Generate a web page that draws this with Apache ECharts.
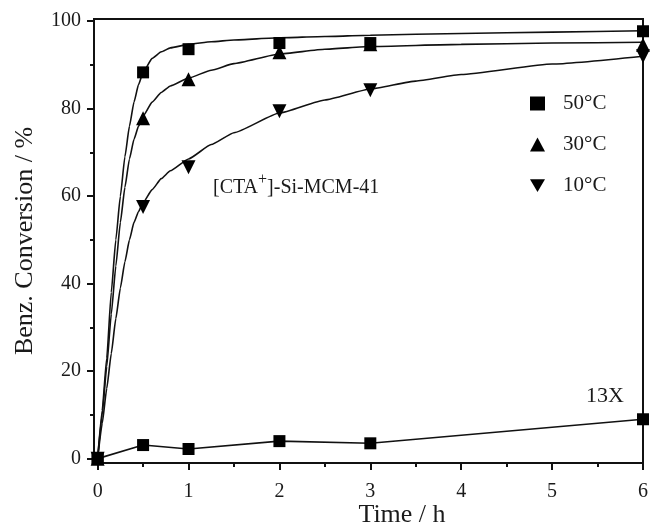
<!DOCTYPE html>
<html>
<head>
<meta charset="utf-8">
<script src="https://cdn.jsdelivr.net/npm/echarts@6/dist/echarts.min.js"></script>
<style>
  html, body { margin: 0; padding: 0; background: #fff; }
  #chart { width: 651px; height: 527px; }
</style>
</head>
<body>
<div id="chart"></div>
<script>
// Measured conversions (markers)
const timesH = [0, 0.5, 1, 2, 3, 6];
const conv50 = [0, 88.3, 93.6, 95.0, 95.0, 97.7];
const conv30 = [0, 77.8, 86.7, 92.9, 94.7, 94.6];
const conv10 = [0, 57.5, 66.6, 79.4, 84.2, 92.0];
const conv13X = [0, 3.1, 2.2, 4.0, 3.5, 9.0];

// Fitted kinetic curves
const fitT50 = [0, 0.05, 0.1, 0.15, 0.2, 0.25, 0.3, 0.35, 0.4, 0.45, 0.5, 0.6, 0.7, 0.8, 1, 1.25, 1.5, 2, 2.5, 3, 4, 5, 6];
const fit50  = [0, 11, 23, 38, 50, 60, 69, 76, 81.5, 85.5, 88.3, 91.5, 93, 93.9, 94.7, 95.3, 95.7, 96.2, 96.5, 96.8, 97.2, 97.5, 97.8];
const fitT30 = [0, 0.05, 0.1, 0.15, 0.2, 0.25, 0.3, 0.35, 0.4, 0.45, 0.5, 0.6, 0.7, 0.8, 1, 1.25, 1.5, 2, 2.5, 3, 4, 5, 6];
const fit30  = [0, 10, 21, 33, 44, 54, 62, 68.5, 73, 76, 78.3, 81.5, 83.7, 85.2, 87, 88.8, 90.3, 92.5, 93.6, 94.2, 94.7, 95.0, 95.2];
const fitT10 = [0, 0.05, 0.1, 0.15, 0.2, 0.25, 0.3, 0.35, 0.4, 0.45, 0.5, 0.6, 0.7, 0.8, 1, 1.25, 1.5, 2, 2.5, 3, 3.5, 4, 5, 6];
const fit10  = [0, 8, 16, 24, 32, 39, 45, 50, 54, 56.5, 58.5, 61.5, 64, 65.8, 68.5, 71.8, 74.5, 79, 82, 84.5, 86.3, 87.8, 90.2, 92];

const yTicks = [0, 20, 40, 60, 80, 100];
const yMinor = [10, 30, 50, 70, 90];
const xTicks = [0, 1, 2, 3, 4, 5, 6];
const xMinor = [0.5, 1.5, 2.5, 3.5, 4.5, 5.5];

const serif = '"Liberation Serif", "DejaVu Serif", serif';
const ink = '#1a1a1a';
const pairs = (xs, ys) => xs.map((x, i) => [x, ys[i]]);

const chart = echarts.init(document.getElementById('chart'));

const tickStyle = { color: '#111', width: 2 };
const downTriangle = 'path://M0,0 L20,0 L10,17 Z';

function valueAxis(min, max, position) {
  return { type: 'value', min: min, max: max, position: position, splitLine: { show: false } };
}

const xMain = Object.assign(valueAxis(-0.04, 6, 'bottom'), {
  axisLine: { show: true, onZero: false, lineStyle: { color: '#111', width: 2 } },
  axisTick: { show: true, inside: false, length: 7, customValues: xTicks, lineStyle: tickStyle },
  axisLabel: { customValues: xTicks, margin: 19, fontFamily: serif, fontSize: 20, color: ink },
});
const xMinorAxis = Object.assign(valueAxis(-0.04, 6, 'bottom'), {
  axisLine: { show: false, onZero: false },
  axisTick: { show: true, inside: false, length: 4, customValues: xMinor, lineStyle: tickStyle },
  axisLabel: { show: false },
});
const yMain = Object.assign(valueAxis(-1, 100.5, 'left'), {
  axisLine: { show: true, onZero: false, lineStyle: { color: '#111', width: 2 } },
  axisTick: { show: true, inside: false, length: 7, customValues: yTicks, lineStyle: tickStyle },
  axisLabel: { customValues: yTicks, margin: 13, fontFamily: serif, fontSize: 20, color: ink },
});
const yMinorAxis = Object.assign(valueAxis(-1, 100.5, 'left'), {
  axisLine: { show: false, onZero: false },
  axisTick: { show: true, inside: false, length: 4, customValues: yMinor, lineStyle: tickStyle },
  axisLabel: { show: false },
});

function curve(name, xs, ys) {
  return {
    type: 'line', name: name, data: pairs(xs, ys),
    smooth: 0.15, smoothMonotone: 'x', showSymbol: false, symbol: 'none',
    lineStyle: { color: '#111', width: 1.6 }, silent: true, z: 2,
    clip: false,
  };
}
function markers(name, ys, symbol, size) {
  return {
    type: 'scatter', name: name, data: pairs(timesH, ys),
    symbol: symbol, symbolSize: size,
    itemStyle: { color: '#000', opacity: 1 }, z: 3, clip: false,
  };
}

chart.setOption({
  animation: false,
  backgroundColor: '#fff',
  grid: {
    left: 94, right: 1, top: 19, bottom: 64,
    show: true, borderColor: '#111', borderWidth: 2, backgroundColor: 'transparent',
  },
  xAxis: [xMain, xMinorAxis],
  yAxis: [yMain, yMinorAxis],
  legend: {
    orient: 'vertical', left: 525, top: 88, itemGap: 20,
    itemWidth: 15, itemHeight: 14,
    data: [
      { name: '50°C', icon: 'rect' },
      { name: '30°C', icon: 'triangle' },
      { name: '10°C', icon: downTriangle },
    ],
    itemStyle: { color: '#000', opacity: 1 },
    textStyle: { fontFamily: serif, fontSize: 21, color: ink, padding: [0, 0, 0, 13] },
    selectedMode: false,
  },
  series: [
    curve('fit50', fitT50, fit50),
    curve('fit30', fitT30, fit30),
    curve('fit10', fitT10, fit10),
    {
      type: 'line', name: '13X', data: pairs(timesH, conv13X),
      symbol: 'rect', symbolSize: 12, showSymbol: true,
      itemStyle: { color: '#000' }, lineStyle: { color: '#111', width: 1.6 },
      z: 3, clip: false,
    },
    markers('50°C', conv50, 'rect', 12),
    markers('30°C', conv30, 'triangle', 14),
    markers('10°C', conv10, downTriangle, 14),
  ],
  graphic: [
    {
      type: 'text', x: 213, y: 188,
      style: {
        text: '[CTA{sup|+}]-Si-MCM-41',
        fontFamily: serif, fontSize: 20, fill: ink, verticalAlign: 'middle',
        rich: { sup: { fontFamily: serif, fontSize: 16, fill: ink, verticalAlign: 'top', padding: [0, 0, 16, 0] } },
      },
    },
    {
      type: 'text', x: 586, y: 396,
      style: { text: '13X', fontFamily: serif, fontSize: 22, fill: ink, verticalAlign: 'middle' },
    },
    {
      type: 'text', x: 402, y: 515,
      style: { text: 'Time / h', fontFamily: serif, fontSize: 26, fill: ink, align: 'center', verticalAlign: 'middle' },
    },
    {
      type: 'text', x: 25, y: 241, rotation: Math.PI / 2,
      style: { text: 'Benz. Conversion / %', fontFamily: serif, fontSize: 26, fill: ink, align: 'center', verticalAlign: 'middle' },
    },
  ],
});
</script>
</body>
</html>
